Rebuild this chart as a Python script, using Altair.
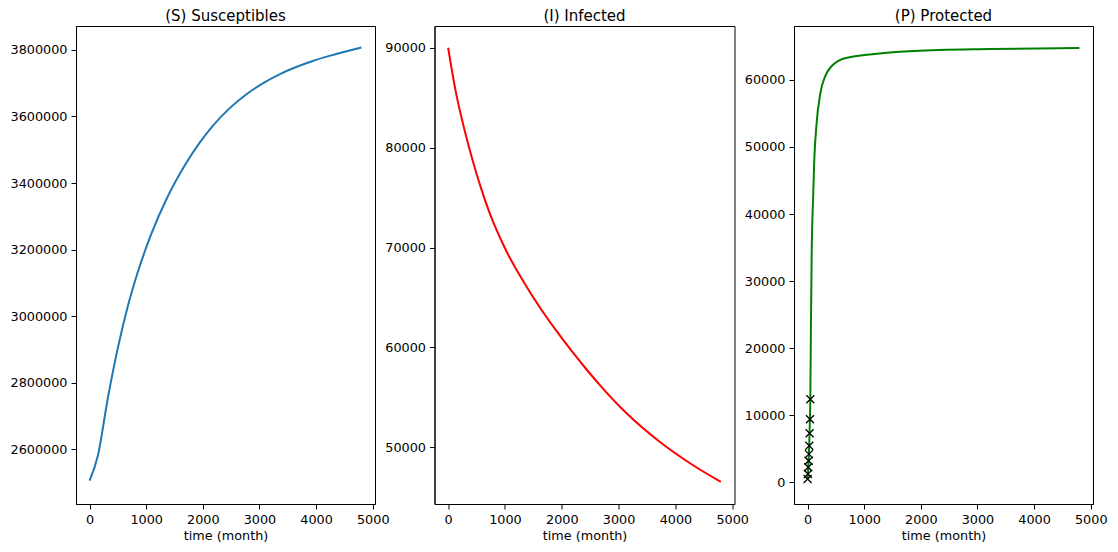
import altair as alt
import pandas as pd

# ---- data ----
panel_titles = ["(S) Susceptibles", "(I) Infected", "(P) Protected"]

s_time = [0, 147, 324, 500, 676, 853, 1088, 1382, 1690, 1941, 2176, 2470,
          2765, 3059, 3353, 3647, 3941, 4235, 4800]
s_vals = [2505000, 2581000, 2755000, 2905000, 3030000, 3133000, 3246000,
          3360000, 3455500, 3520800, 3572000, 3624300, 3666200, 3699700,
          3726700, 3748700, 3766900, 3782200, 3807600]

i_time = [0, 135, 282, 429, 576, 723, 1018, 1312, 1606, 1900, 2194, 2459,
          2694, 3136, 3723, 4311, 4800]
i_vals = [90000, 85580, 81920, 78760, 75990, 73560, 69720, 66720, 64070,
          61700, 59500, 57640, 56080, 53430, 50554, 48202, 46539]

p_time = [0, 48, 59, 71, 100, 118, 154, 224, 306, 412, 559, 765, 1000,
          1883, 3224, 4800]
p_vals = [400, 12430, 23320, 33220, 43110, 48070, 53020, 57970, 60450,
          61930, 62920, 63420, 63700, 64310, 64600, 64750]

obs_time = [0, 6, 12, 18, 24, 30, 36, 42, 48]
obs_vals = [490, 1230, 2230, 3220, 4200, 5450, 7320, 9400, 12370]

x_ticks = [0, 1000, 2000, 3000, 4000, 5000]
s_ticks = [2600000, 2800000, 3000000, 3200000, 3400000, 3600000, 3800000]
i_ticks = [50000, 60000, 70000, 80000, 90000]
p_ticks = [0, 10000, 20000, 30000, 40000, 50000, 60000]

FONT = "DejaVu Sans"
X_DOMAIN = [-240, 5040]
H = 478

df_s = pd.DataFrame({"t": s_time, "v": s_vals})
df_i = pd.DataFrame({"t": i_time, "v": i_vals})
df_p = pd.DataFrame({"t": p_time, "v": p_vals})
df_o = pd.DataFrame({"t": obs_time, "v": obs_vals})


def xenc():
    return alt.X("t:Q", scale=alt.Scale(domain=X_DOMAIN, nice=False, zero=False),
                 axis=alt.Axis(values=x_ticks, format="d", title="time (month)"))


def yenc(domain, ticks):
    return alt.Y("v:Q", scale=alt.Scale(domain=domain, nice=False, zero=False),
                 axis=alt.Axis(values=ticks, format="d", title=None))


def title_mark(idx, width):
    df = pd.DataFrame({"label": [panel_titles[idx]]})
    return alt.Chart(df).mark_text(
        font=FONT, fontSize=15, color="black", align="center",
        baseline="alphabetic"
    ).encode(text="label:N", x=alt.value(width / 2), y=alt.value(-5))


s_line = alt.Chart(df_s).mark_line(
    color="#1f77b4", strokeWidth=2, interpolate="monotone"
).encode(x=xenc(), y=yenc([2435000, 3872000], s_ticks))
s_chart = alt.layer(s_line, title_mark(0, 299)).properties(width=299, height=H)

i_line = alt.Chart(df_i).mark_line(
    color="red", strokeWidth=2, interpolate="monotone"
).encode(x=xenc(), y=yenc([44325, 92175], i_ticks))
i_chart = alt.layer(i_line, title_mark(1, 300)).properties(width=300, height=H)

p_line = alt.Chart(df_p).mark_line(
    color="green", strokeWidth=2, interpolate="monotone"
).encode(x=xenc(), y=yenc([-3240, 68040], p_ticks))

p_pts = alt.Chart(df_o).mark_point(
    shape="M-1,-1L1,1M-1,1L1,-1", filled=False, color="black", size=64,
    strokeWidth=1.3, opacity=1
).encode(x=xenc(), y=yenc([-3240, 68040], p_ticks))

p_chart = alt.layer(p_line, p_pts, title_mark(2, 299)).properties(width=299, height=H)

chart = alt.hconcat(s_chart, i_chart, p_chart, spacing=59.5, bounds="flush").properties(
    padding={"left": 1, "top": 0, "right": 1, "bottom": 0}
).configure_view(
    stroke="black", strokeWidth=1
).configure_axis(
    grid=False, domainColor="black", domainWidth=1, tickColor="black",
    tickSize=5, tickWidth=1, labelFont=FONT, labelFontSize=12.8, labelColor="black",
    labelPadding=4, titleFont=FONT, titleFontSize=12.8, titleFontWeight="normal",
    titleColor="black", titlePadding=4
)

chart.save("out.html", embed_options={"renderer": "svg", "actions": False})
